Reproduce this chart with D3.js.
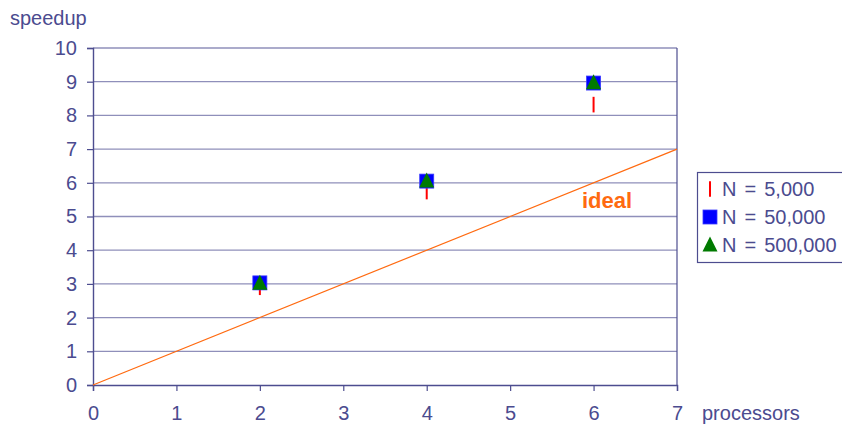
<!DOCTYPE html>
<html>
<head>
<meta charset="utf-8">
<script src="https://cdn.jsdelivr.net/npm/d3@7/dist/d3.min.js"></script>
<style>
  html, body { margin: 0; padding: 0; background: #fff; overflow: hidden; }
  svg { display: block; }
  svg text { font-family: "Liberation Sans", Arial, sans-serif; fill: #4b4b8f; }
</style>
</head>
<body>
<svg id="chart" width="842" height="428"></svg>
<script>
// Processor counts measured
const processors = [2, 4, 6];
// Speedup per problem size
const speedup5k   = [2.9, 5.74, 8.32];
const speedup50k  = [3.03, 6.05, 8.96];
const speedup500k = [3.02, 6.05, 8.97];
// Ideal speedup reference line
const idealLine = [[0, 0], [7, 7]];
const xTicks = [0, 1, 2, 3, 4, 5, 6, 7];
const yTicks = [0, 1, 2, 3, 4, 5, 6, 7, 8, 9, 10];
const legendLabels = ["N = 5,000", "N = 50,000", "N = 500,000"];

const svg = d3.select("#chart");
const axisColor = "#4d4d8f";
const gridColor = "#8f8fba";
const fontSize = 20;

const x = d3.scaleLinear().domain([0, 7]).range([93, 677]);
const y = d3.scaleLinear().domain([0, 10]).range([385, 48]);

// Horizontal gridlines
svg.append("g").selectAll("line").data(yTicks.filter(d => d > 0)).join("line")
  .attr("x1", x(0)).attr("x2", x(7))
  .attr("y1", d => y(d)).attr("y2", d => y(d))
  .attr("stroke", gridColor).attr("stroke-width", 1.3);

// Right border of plot
svg.append("line").attr("x1", x(7)).attr("x2", x(7)).attr("y1", y(10)).attr("y2", y(0))
  .attr("stroke", axisColor).attr("stroke-width", 1.2);

// Axes
const yAxis = svg.append("g").attr("transform", `translate(${x(0)},0)`)
  .call(d3.axisLeft(y).tickValues(yTicks).tickSize(6).tickPadding(10).tickFormat(d3.format("d")));
const xAxis = svg.append("g").attr("transform", `translate(0,${y(0)})`)
  .call(d3.axisBottom(x).tickValues(xTicks).tickSize(6).tickPadding(15).tickFormat(d3.format("d")));
[yAxis, xAxis].forEach(g => {
  g.select(".domain").attr("stroke", axisColor).attr("stroke-width", 1.4);
  g.selectAll(".tick line").attr("stroke", axisColor).attr("stroke-width", 1.2);
  g.selectAll("text").attr("font-size", fontSize).attr("fill", "#4b4b8f")
    .attr("font-family", "Liberation Sans, Arial, sans-serif");
});

// Ideal line
svg.append("line")
  .attr("x1", x(idealLine[0][0])).attr("y1", y(idealLine[0][1]))
  .attr("x2", x(idealLine[1][0])).attr("y2", y(idealLine[1][1]))
  .attr("stroke", "#ff6a10").attr("stroke-width", 1.2);
svg.append("text").attr("x", 582).attr("y", 208)
  .attr("font-size", 22).attr("font-weight", "bold")
  .style("fill", "#ff6a10").text("ideal");

// Marker drawers
function dash(g, cx, cy) {
  g.append("line").attr("x1", cx).attr("x2", cx).attr("y1", cy - 7.8).attr("y2", cy + 7.8)
    .attr("stroke", "#ff0000").attr("stroke-width", 2);
}
function square(g, cx, cy) {
  g.append("rect").attr("x", cx - 7).attr("y", cy - 7).attr("width", 14).attr("height", 14)
    .attr("fill", "#0000ff").attr("stroke", "#3a3aff").attr("stroke-width", 0.8);
}
function triangle(g, cx, cy) {
  g.append("path")
    .attr("d", `M${cx},${cy - 8.5}L${cx + 7.5},${cy + 6.5}L${cx - 7.5},${cy + 6.5}Z`)
    .attr("fill", "#007a00");
}

const marks = svg.append("g");
processors.forEach((p, i) => dash(marks, x(p), y(speedup5k[i])));
processors.forEach((p, i) => square(marks, x(p), y(speedup50k[i])));
processors.forEach((p, i) => triangle(marks, x(p), y(speedup500k[i])));

// Axis titles
svg.append("text").attr("x", 10).attr("y", 25).attr("font-size", fontSize).text("speedup");
svg.append("text").attr("x", 702).attr("y", 420).attr("font-size", fontSize).text("processors");

// Legend
const lg = svg.append("g");
lg.append("rect").attr("x", 697.5).attr("y", 172.5).attr("width", 200).attr("height", 90)
  .attr("fill", "#fff").attr("stroke", axisColor).attr("stroke-width", 1.2);
const drawers = [dash, square, triangle];
legendLabels.forEach((t, i) => {
  const cy = 189 + i * 28;
  drawers[i](lg, 710, cy);
  lg.append("text").attr("x", 722).attr("y", cy + 7).attr("font-size", fontSize)
    .attr("word-spacing", 2.5).text(t);
});
</script>
</body>
</html>
